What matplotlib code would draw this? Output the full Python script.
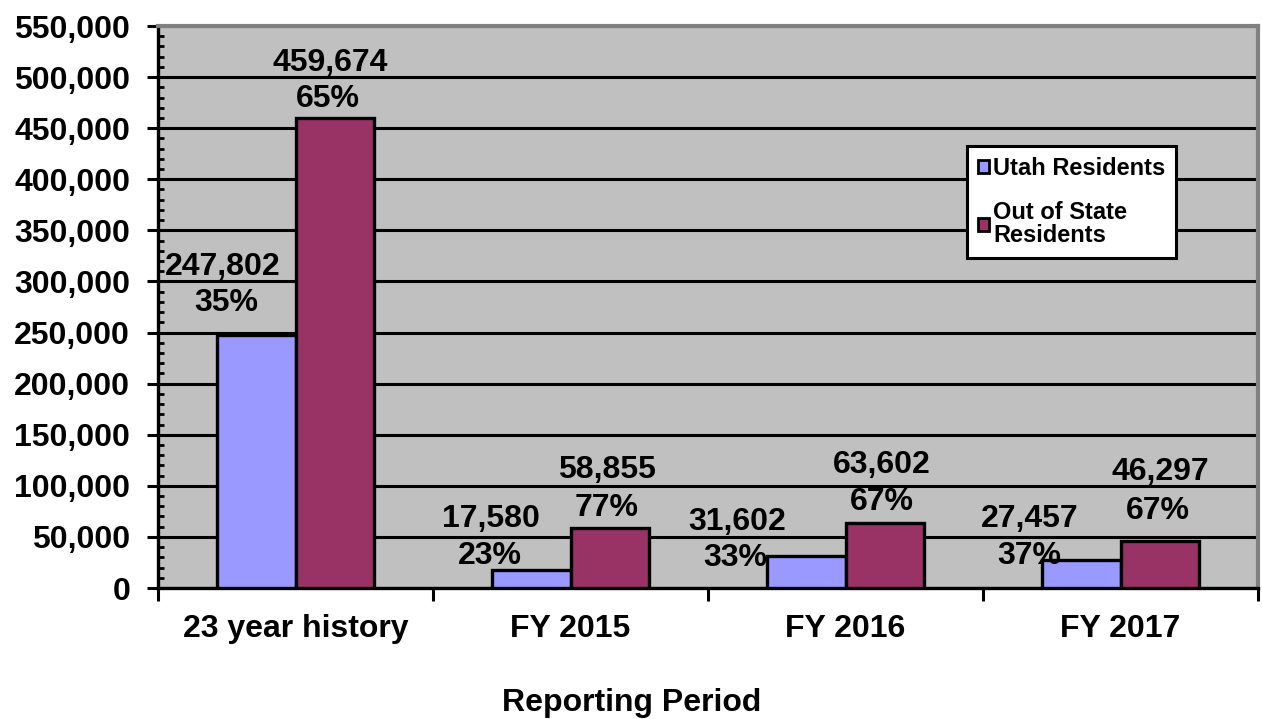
import matplotlib
matplotlib.use("Agg")
import matplotlib.pyplot as plt
from matplotlib.ticker import MultipleLocator, FuncFormatter
from matplotlib.patches import Patch
import numpy as np

categories = ["23 year history", "FY 2015", "FY 2016", "FY 2017"]
utah = [247802, 17580, 31602, 27457]
out_of_state = [459674, 58855, 63602, 46297]
utah_pct = ["35%", "23%", "33%", "37%"]
out_pct = ["65%", "77%", "67%", "67%"]
series_names = ["Utah Residents", "Out of State\nResidents"]

# label offsets in pixels (number dx, number up, pct dx, pct up) relative to bar top centre
utah_off = [(-33, 68, -30, 32), (-40, 51, -41, 14), (-69, 34, -71, -2), (-51, 41, -52, 4)]
out_off = [(-5, 55, -7, 19), (-3, 58, -3, 20), (-3, 58, -3, 21), (0, 69, -2, 30)]

plt.rcParams['font.family'] = ['Liberation Sans', 'DejaVu Sans']
plt.rcParams['font.weight'] = 'bold'

FS = 23
W, H = 1262, 719
fig = plt.figure(figsize=(W / 100, H / 100), dpi=100)
ax = fig.add_axes([158 / W, 1 - 588 / H, (1258 - 158) / W, (588 - 26) / H])
ax.set_facecolor('#C0C0C0')

x = np.arange(len(categories))
bw = 0.287
c_utah = '#9999FF'
c_out = '#993366'
b1 = ax.bar(x - bw / 2, utah, bw, color=c_utah, edgecolor='black', linewidth=2.4, zorder=3)
b2 = ax.bar(x + bw / 2, out_of_state, bw, color=c_out, edgecolor='black', linewidth=2.4, zorder=3)

ax.set_xlim(-0.5, len(categories) - 0.5)
ax.set_ylim(0, 550000)

ax.yaxis.set_major_locator(MultipleLocator(50000))
ax.yaxis.set_minor_locator(MultipleLocator(10000))
ax.yaxis.set_major_formatter(FuncFormatter(lambda v, p: f"{int(v):,}"))
ax.grid(axis='y', which='major', color='black', linewidth=2.2, zorder=1)
ax.set_axisbelow(True)

ax.set_xticks(np.arange(-0.5, len(categories), 1.0))
ax.set_xticklabels([])
ax.set_xticks(x, minor=True)
ax.set_xticklabels(categories, minor=True)
ax.tick_params(axis='x', which='major', direction='out', length=9, width=2.2, color='black')
ax.tick_params(axis='x', which='minor', length=0, pad=19, labelsize=FS)
ax.tick_params(axis='y', which='major', direction='out', length=8, width=2.2, labelsize=FS, pad=12)
ax.tick_params(axis='y', which='minor', direction='in', length=4, width=2)
for lab in ax.get_xticklabels(minor=True) + ax.get_yticklabels():
    lab.set_fontweight('bold')

for s in ['left', 'bottom']:
    ax.spines[s].set_color('black')
    ax.spines[s].set_linewidth(2.4)
for s in ['top', 'right']:
    ax.spines[s].set_color('#808080')
    ax.spines[s].set_linewidth(3)

def put(bars, vals, pcts, offs):
    for rect, v, p, o in zip(bars, vals, pcts, offs):
        cx = rect.get_x() + rect.get_width() / 2
        ax.annotate(f"{v:,}", xy=(cx, v), xytext=(o[0], o[1]), textcoords='offset pixels',
                    ha='center', va='center', fontsize=FS, fontweight='bold', zorder=5)
        ax.annotate(p, xy=(cx, v), xytext=(o[2], o[3]), textcoords='offset pixels',
                    ha='center', va='center', fontsize=FS, fontweight='bold', zorder=5)

put(b1, utah, utah_pct, utah_off)
put(b2, out_of_state, out_pct, out_off)

handles = [Patch(facecolor=c_utah, edgecolor='black', linewidth=2),
           Patch(facecolor=c_out, edgecolor='black', linewidth=2)]
leg = ax.legend(handles, series_names, loc='upper left',
                bbox_to_anchor=((967 - 158) / 1100, (588 - 146) / 562),
                prop={'weight': 'bold', 'size': 17}, frameon=True, fancybox=False,
                handlelength=0.5, handleheight=0.5, handletextpad=0.15,
                labelspacing=0.9, borderpad=0.45, borderaxespad=0)
for t in leg.get_texts():
    t.set_linespacing(1.0)
leg.get_frame().set_edgecolor('black')
leg.get_frame().set_linewidth(2.2)
leg.get_frame().set_facecolor('white')
leg.get_frame().set_alpha(1)
leg.set_zorder(6)

fig.text(632 / W, 1 - 703 / H, "Reporting Period", ha='center', va='center',
         fontsize=FS, fontweight='bold')

fig.savefig("out.png", dpi=100)
